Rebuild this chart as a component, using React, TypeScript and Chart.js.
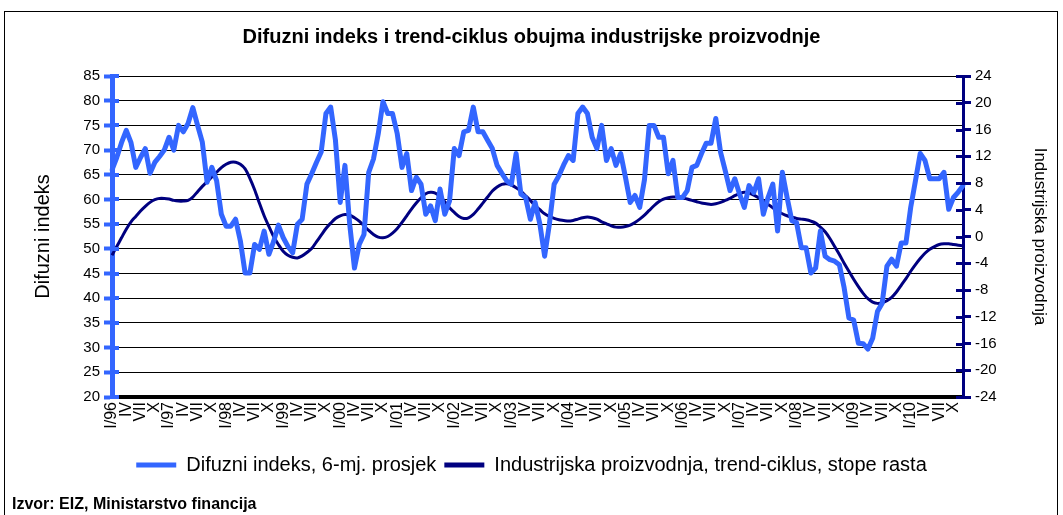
import React, { useEffect, useRef } from 'react';
import { Chart, registerables } from 'chart.js';

Chart.register(...registerables);

const years = ['96', '97', '98', '99', '00', '01', '02', '03', '04', '05', '06', '07', '08', '09', '10'];
const months = ['I', 'II', 'III', 'IV', 'V', 'VI', 'VII', 'VIII', 'IX', 'X', 'XI', 'XII'];
const categories = years.flatMap((y) => months.map((m, i) => (i === 0 ? `${m}/${y}` : m)));

// Difuzni indeks, 6-mj. prosjek (left axis), monthly I/96 - XII/10
const difuzniIndeks = [
  66, 68.5, 71.5, 74, 71.5, 66.5, 68.5, 70.3, 65.3, 67.5, 68.7, 70,
  72.6, 70, 75, 73.7, 75.4, 78.6, 75, 71.6, 63.5, 66.5, 63.8, 57,
  54.6, 54.6, 56, 51.6, 45.1, 45.1, 50.9, 49.9, 53.6, 48.9, 51.5, 54.8,
  52.3, 50.5, 49.2, 55, 56, 63.1, 65.2, 67.5, 69.6, 77.4, 78.7, 72,
  59.4, 66.9, 55, 46.1, 50.9, 52.9, 65.5, 68.2, 73.3, 79.8, 77.4, 77.4,
  73.3, 66.5, 69.3, 61.8, 64.5, 63.1, 57, 58.7, 55.7, 62.1, 57, 59.7,
  70.3, 68.9, 73.7, 74, 78.7, 73.7, 73.7, 72, 70.3, 66.9, 65.3, 63.8,
  63.1, 69.3, 61.1, 60.4, 56, 59.4, 55, 48.5, 55, 63.1, 64.8, 67,
  68.9, 67.9, 77.4, 78.7, 77.4, 72.6, 70.3, 75, 67.9, 70.3, 66.9, 69.3,
  64.5, 59.4, 60.8, 58.4, 64, 75, 75, 72.6, 72.6, 65.2, 67.9, 60.4,
  60.4, 61.8, 66.5, 66.9, 69.3, 71.4, 71.4, 76.4, 69.6, 65.8, 61.8, 64.2,
  61.1, 58.4, 62.8, 61.4, 64.2, 57, 60.4, 63.1, 53.6, 65.5, 60.4, 55.7,
  55.3, 50.2, 50.2, 45.1, 46.1, 53.6, 48.5, 47.8, 47.5, 46.8, 42.1, 36,
  35.6, 30.9, 30.8, 29.7, 31.9, 37.3, 39, 46.5, 47.9, 46.5, 51.2, 51.2,
  58.4, 63.8, 69.3, 67.9, 64.2, 64.2, 64.2, 65.5, 58, 60.4, 61.5, 62.8,
];

// Industrijska proizvodnja, trend-ciklus, stope rasta (right axis)
const trendCiklus = [
  -2.8, -1.5, -0.2, 1.1, 2.2, 3.0, 3.8, 4.5, 5.1, 5.5, 5.7, 5.7,
  5.6, 5.4, 5.3, 5.3, 5.4, 5.9, 6.7, 7.5, 8.2, 8.9, 9.6, 10.3,
  10.8, 11.1, 11.1, 10.8, 10.1, 8.7, 7.0, 5.0, 3.1, 1.5, 0.0, -1.2,
  -2.2, -2.8, -3.1, -3.2, -2.9, -2.4, -1.8, -0.8, 0.2, 1.2, 2.0, 2.7,
  3.1, 3.3, 3.2, 2.8, 2.3, 1.6, 0.9, 0.3, -0.1, -0.2, 0.0, 0.5,
  1.2, 2.1, 3.1, 4.1, 5.0, 5.8, 6.4, 6.6, 6.5, 6.0, 5.2, 4.3,
  3.6, 3.0, 2.7, 2.8, 3.3, 4.1, 5.0, 5.9, 6.8, 7.4, 7.8, 7.9,
  7.7, 7.3, 6.8, 6.1, 5.4, 4.6, 4.0, 3.4, 3.0, 2.7, 2.5, 2.4,
  2.3, 2.4, 2.6, 2.8, 2.9, 2.8, 2.6, 2.2, 1.9, 1.6, 1.4, 1.4,
  1.5, 1.7, 2.1, 2.6, 3.2, 3.9, 4.6, 5.2, 5.6, 5.8, 5.9, 5.9,
  5.8, 5.6, 5.4, 5.2, 5.0, 4.9, 4.8, 4.9, 5.1, 5.4, 5.7, 6.1,
  6.4, 6.6, 6.5, 6.2, 5.8, 5.3, 4.8, 4.3, 3.8, 3.4, 3.1, 2.9,
  2.7, 2.6, 2.5, 2.3, 2.0, 1.4, 0.7, -0.3, -1.5, -2.7, -4.0, -5.2,
  -6.4, -7.5, -8.5, -9.3, -9.8, -10.0, -9.9, -9.6, -9.1, -8.3, -7.3, -6.3,
  -5.2, -4.2, -3.3, -2.5, -1.9, -1.5, -1.2, -1.1, -1.1, -1.2, -1.3, -1.4,
];

const leftRange = [20, 85, 5];
const rightRange = [-24, 24, 4];

const BLUE = '#3366FF';
const NAVY = '#000080';
const FONT = '"Liberation Sans", Arial, sans-serif';

const crossTicks = {
  id: 'crossTicks',
  afterDraw(chart: any) {
    const { ctx } = chart;
    const yl = chart.scales.y;
    const yr = chart.scales.y1;
    ctx.save();
    ctx.lineCap = 'butt';
    ctx.strokeStyle = BLUE;
    ctx.lineWidth = 4;
    yl.ticks.forEach((t: any) => {
      const py = Math.round(yl.getPixelForValue(t.value));
      ctx.beginPath();
      ctx.moveTo(yl.right - 2, py);
      ctx.lineTo(yl.right + 7, py);
      ctx.stroke();
    });
    ctx.strokeStyle = NAVY;
    ctx.lineWidth = 3;
    yr.ticks.forEach((t: any) => {
      const py = Math.round(yr.getPixelForValue(t.value)) + 0.5;
      ctx.beginPath();
      ctx.moveTo(yr.left - 7, py);
      ctx.lineTo(yr.left + 2, py);
      ctx.stroke();
    });
    ctx.restore();
  },
};

export default function App() {
  const ref = useRef<HTMLCanvasElement>(null);

  useEffect(() => {
    if (!ref.current) return;
    const chart = new Chart(ref.current, {
      type: 'line',
      data: {
        labels: categories,
        datasets: [
          {
            label: 'Difuzni indeks, 6-mj. prosjek',
            data: difuzniIndeks,
            borderColor: BLUE,
            backgroundColor: BLUE,
            borderWidth: 5,
            pointRadius: 0,
            tension: 0,
            yAxisID: 'y',
            borderJoinStyle: 'round',
            borderCapStyle: 'round',
          },
          {
            label: 'Industrijska proizvodnja, trend-ciklus, stope rasta',
            data: trendCiklus,
            borderColor: NAVY,
            backgroundColor: NAVY,
            borderWidth: 3,
            pointRadius: 0,
            tension: 0.3,
            yAxisID: 'y1',
          },
        ],
      },
      options: {
        responsive: false,
        animation: false,
        devicePixelRatio: 1,
        layout: { padding: { left: 0, right: 0, top: 0, bottom: 30 } },
        plugins: {
          title: {
            display: true,
            text: 'Difuzni indeks i trend-ciklus obujma industrijske proizvodnje',
            color: '#000',
            font: { family: FONT, size: 20, weight: 'bold' },
            padding: { top: 25, bottom: 27 },
          },
          legend: {
            display: true,
            position: 'bottom',
            labels: {
              color: '#000',
              font: { family: FONT, size: 20 },
              boxWidth: 40,
              boxHeight: 5,
              padding: 8,
              generateLabels: (c: any) =>
                c.data.datasets.map((ds: any, i: number) => ({
                  text: ds.label,
                  fillStyle: ds.borderColor,
                  strokeStyle: ds.borderColor,
                  lineWidth: 0,
                  hidden: false,
                  datasetIndex: i,
                  fontColor: '#000',
                })),
            },
          },
          tooltip: { enabled: false },
        },
        scales: {
          x: {
            type: 'category',
            offset: false,
            afterFit: (s: any) => {
              s.height = 50;
            },
            grid: { display: false, drawTicks: false },
            border: { display: true, color: '#000', width: 4 },
            ticks: {
              autoSkip: false,
              maxRotation: 90,
              minRotation: 90,
              padding: 5,
              color: '#000',
              font: { family: FONT, size: 16 },
              callback: (_v: any, idx: number) => (idx % 3 === 0 ? categories[idx] : ''),
            },
          },
          y: {
            position: 'left',
            min: leftRange[0],
            max: leftRange[1],
            afterFit: (s: any) => {
              s.width = 112;
            },
            ticks: {
              stepSize: leftRange[2],
              color: '#000',
              padding: 4,
              font: { family: FONT, size: 15 },
            },
            grid: {
              color: '#000',
              lineWidth: 1,
              tickColor: BLUE,
              tickLength: 8,
              tickWidth: 4,
            },
            border: { display: true, color: BLUE, width: 5 },
            title: {
              display: true,
              text: 'Difuzni indeks',
              color: '#000',
              font: { family: FONT, size: 20 },
              padding: { top: 31, bottom: 0 },
            },
          },
          y1: {
            position: 'right',
            min: rightRange[0],
            max: rightRange[1],
            afterFit: (s: any) => {
              s.width = 100;
            },
            ticks: {
              stepSize: rightRange[2],
              color: '#000',
              padding: 4,
              font: { family: FONT, size: 15 },
            },
            grid: {
              drawOnChartArea: false,
              tickColor: NAVY,
              tickLength: 8,
              tickWidth: 3,
            },
            border: { display: true, color: NAVY, width: 3 },
            title: {
              display: true,
              text: 'Industrijska proizvodnja',
              color: '#000',
              font: { family: FONT, size: 17 },
              padding: { top: 13, bottom: 0 },
            },
          },
        },
      },
      plugins: [crossTicks],
    } as any);
    return () => chart.destroy();
  }, []);

  return (
    <div style={{ position: 'absolute', left: 0, top: 0, width: 1063, height: 515, overflow: 'hidden', background: '#fff' }}>
      <canvas ref={ref} width={1063} height={515} style={{ position: 'absolute', left: 0, top: 0 }} />
      <div
        style={{
          position: 'absolute',
          left: 4,
          top: 11,
          width: 1054,
          height: 520,
          border: '1px solid #000',
          boxSizing: 'border-box',
          pointerEvents: 'none',
        }}
      />
      <div
        style={{
          position: 'absolute',
          left: 12,
          top: 495,
          fontFamily: FONT,
          fontWeight: 'bold',
          fontSize: 16,
          color: '#000',
          whiteSpace: 'nowrap',
        }}
      >
        Izvor: EIZ, Ministarstvo financija
      </div>
    </div>
  );
}
